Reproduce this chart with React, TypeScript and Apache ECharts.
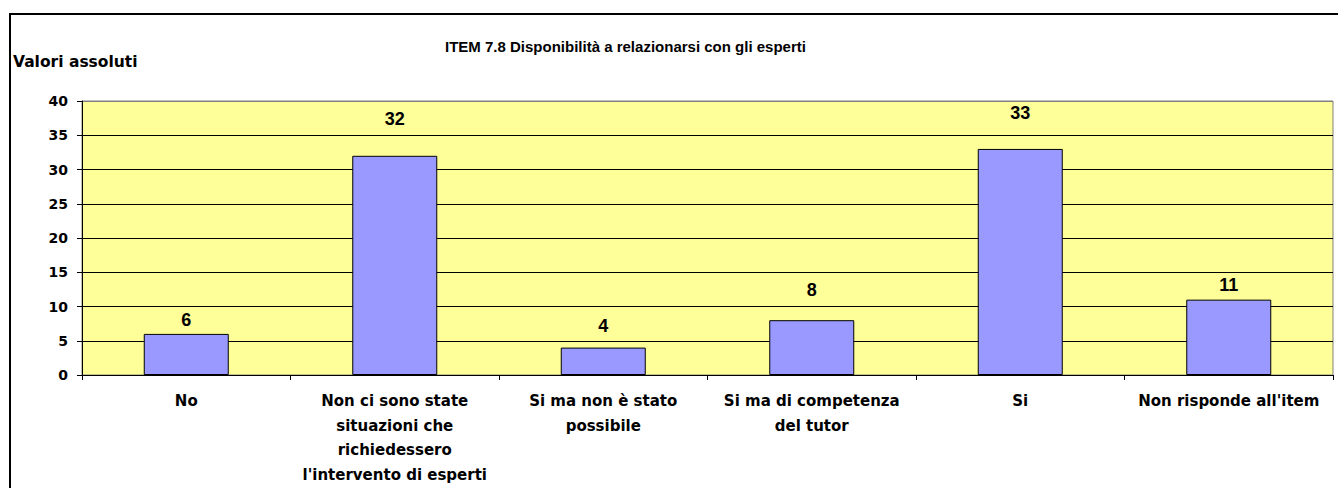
import React, { useEffect, useRef } from 'react';
import * as echarts from 'echarts';

const categories = [
  'No',
  "Non ci sono state\nsituazioni che\nrichiedessero\nl'intervento di esperti",
  'Si ma non è stato\npossibile',
  'Si ma di competenza\ndel tutor',
  'Si',
  "Non risponde all'item",
];
const values = [6, 32, 4, 8, 33, 11];
const yMin = 0;
const yMax = 40;
const yInterval = 5;
const labelDistances = [5, 28, 13, 21, 27, 6];
const titleText = 'ITEM 7.8 Disponibilità a relazionarsi con gli esperti';
const yAxisTitle = 'Valori assoluti';

export default function App() {
  const ref = useRef<HTMLDivElement>(null);
  useEffect(() => {
    if (!ref.current) return;
    const chart = echarts.init(ref.current, undefined, { renderer: 'svg' });
    const splitColors = [] as string[];
    const nLines = (yMax - yMin) / yInterval + 1;
    for (let i = 0; i < nLines; i++) splitColors.push(i === nLines - 1 ? '#808080' : '#000000');
    chart.setOption({
      animation: false,
      backgroundColor: '#ffffff',
      title: {
        text: titleText,
        left: 445,
        top: 39,
        padding: 0,
        textStyle: {
          fontFamily: '"Liberation Sans", Arial, sans-serif',
          fontWeight: 'bold',
          fontSize: 15,
          color: '#000',
        },
      },
      graphic: [
        {
          type: 'rect',
          silent: true,
          shape: { x: 10, y: 14, width: 1500, height: 700 },
          style: { fill: 'none', stroke: '#000', lineWidth: 2 },
        },
        {
          type: 'text',
          x: 13,
          y: 62,
          style: {
            text: yAxisTitle,
            font: 'bold 15.5px "DejaVu Sans", sans-serif',
            fill: '#000',
            textAlign: 'left',
            textVerticalAlign: 'middle',
          },
        },
      ],
      grid: {
        left: 82,
        top: 101,
        right: 5,
        bottom: 113,
        show: true,
        backgroundColor: '#FFFF99',
        borderColor: '#808080',
        borderWidth: 1,
        containLabel: false,
      },
      xAxis: {
        type: 'category',
        data: categories,
        axisLine: { show: true, lineStyle: { color: '#000', width: 1 } },
        axisTick: { show: true, length: 5, lineStyle: { color: '#000' } },
        axisLabel: {
          interval: 0,
          margin: 14,
          color: '#000',
          fontFamily: '"DejaVu Sans", sans-serif',
          fontWeight: 'bold',
          fontSize: 15,
          lineHeight: 24.5,
          align: 'center',
        },
        splitLine: { show: false },
      },
      yAxis: {
        type: 'value',
        min: yMin,
        max: yMax,
        interval: yInterval,
        axisLine: { show: true, lineStyle: { color: '#000', width: 1 } },
        axisTick: { show: true, length: 5, lineStyle: { color: '#000' } },
        axisLabel: {
          margin: 14,
          color: '#000',
          fontFamily: '"DejaVu Sans", sans-serif',
          fontWeight: 'bold',
          fontSize: 14,
        },
        splitLine: { show: true, lineStyle: { color: splitColors, width: 1 } },
      },
      series: [
        {
          type: 'bar',
          barWidth: 85,
          data: values.map((v, i) => ({ value: v, label: { distance: labelDistances[i] } })),
          itemStyle: { color: '#9999FF', borderColor: '#000', borderWidth: 1 },
          label: {
            show: true,
            position: 'top',
            color: '#000',
            fontFamily: '"Liberation Sans", Arial, sans-serif',
            fontWeight: 'bold',
            fontSize: 18,
          },
        },
      ],
    });
    return () => chart.dispose();
  }, []);
  return (
    <div
      ref={ref}
      style={{ position: 'absolute', left: 0, top: 0, width: 1338, height: 488 }}
    />
  );
}
